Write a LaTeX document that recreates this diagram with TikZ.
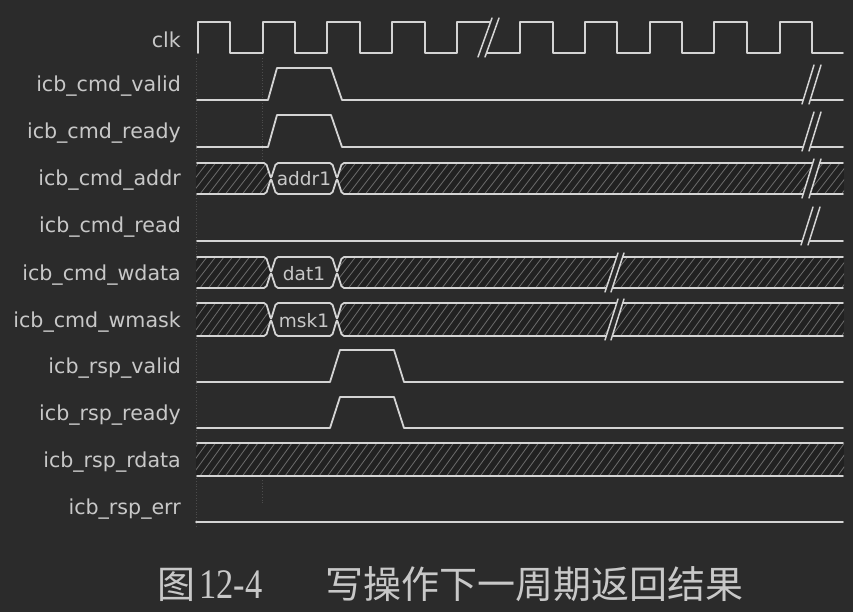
\documentclass[tikz,border=0pt]{standalone}
\usepackage{graphicx}
\usepackage{fontspec}
\setmainfont{DejaVu Sans}
\newfontfamily\cjkfont{Noto Sans CJK SC}
\newfontfamily\capserif{Liberation Serif}
\definecolor{bgc}{HTML}{2B2B2B}
\definecolor{busc}{HTML}{212121}
\definecolor{sigc}{HTML}{D4D4D4}
\definecolor{txtc}{HTML}{C8C8C8}
\definecolor{hatchc}{HTML}{6C6C6C}
\definecolor{gridc}{HTML}{4C4C4C}
\tikzset{
  sig/.style={draw=sigc, line width=1.8pt, line join=round, line cap=round},
  lbl/.style={anchor=base east, text=txtc, inner sep=0pt, font=\fontsize{20.6}{24}\selectfont},
  valtxt/.style={anchor=base, text=txtc, inner sep=0pt, font=\fontsize{18.5}{22}\selectfont},
  hatchline/.style={draw=hatchc, line width=0.8pt},
  gridline/.style={draw=gridc, line width=0.8pt, dotted},
}
% hatched region: #1 clip path, #2 x1, #3 x2, #4 ytop, #5 ybot
\newcommand\hatchreg[5]{%
  \begin{scope}
    \clip #1;
    \fill[busc] (#2,#4) rectangle (#3,#5);
    \pgfmathtruncatemacro\hnn{(#3-#2+40)/8.5}
    \foreach \i in {0,...,\hnn}{%
      \pgfmathsetmacro\hxx{#2-30+8.5*\i}
      \draw[hatchline] (\hxx,#5) -- (\hxx+24,#4);
    }
  \end{scope}}
% bus with one value: #1 top, #2 bottom
\newcommand\busrow[2]{%
  \pgfmathsetmacro\bm{(#1+#2)/2}
  \hatchreg{(196,#1) -- (266,#1) -- (271,\bm) -- (266,#2) -- (196,#2) -- cycle}{196}{272}{#1}{#2}
  \hatchreg{(337,\bm) -- (342,#1) -- (844,#1) -- (844,#2) -- (342,#2) -- cycle}{336}{844}{#1}{#2}
  \draw[sig, rounded corners=2pt] (197,#1) -- (266,#1) -- (271,\bm) -- (276,#1) -- (332,#1) -- (337,\bm) -- (342,#1) -- (843,#1);
  \draw[sig, rounded corners=2pt] (197,#2) -- (266,#2) -- (271,\bm) -- (276,#2) -- (332,#2) -- (337,\bm) -- (342,#2) -- (843,#2);
}
% break mark: #1 x bottom, #2 y bottom, #3 x top, #4 y top, #5 gap
\newcommand\brk[5]{%
  \fill[bgc] (#1,#2) -- (#3,#4) -- (#3+#5,#4) -- (#1+#5,#2) -- cycle;
  \draw[sig, line width=1.5pt] (#1,#2) -- (#3,#4);
  \draw[sig, line width=1.5pt] (#1+#5,#2) -- (#3+#5,#4);
}
\begin{document}
\begin{tikzpicture}[x=1pt,y=-1pt]
\fill[bgc] (0,0) rectangle (853,612);
\useasboundingbox (0,0) rectangle (853,612);

% faint dotted grid
\draw[gridline] (196,58) -- (196,528);
\draw[gridline] (262,58) -- (262,160);
\draw[gridline] (262,480) -- (262,505);

% labels
\node[lbl] (lclk)   at (181,48)  {clk};
\node[lbl] (lcv)    at (181,92)  {icb\_cmd\_valid};
\node[lbl] (lcr)    at (181,139) {icb\_cmd\_ready};
\node[lbl] (lca)    at (181,186) {icb\_cmd\_addr};
\node[lbl] (lcrd)   at (181,233) {icb\_cmd\_read};
\node[lbl] (lcw)    at (181,280) {icb\_cmd\_wdata};
\node[lbl] (lcm)    at (181,327) {icb\_cmd\_wmask};
\node[lbl] (lrv)    at (181,373) {icb\_rsp\_valid};
\node[lbl] (lrr)    at (181,420) {icb\_rsp\_ready};
\node[lbl] (lrd)    at (181,467) {icb\_rsp\_rdata};
\node[lbl] (lre)    at (181,514) {icb\_rsp\_err};

% clk
\draw[sig] (198,53) -- (198,22) -- (230,22) -- (230,53) -- (263,53) -- (263,22) -- (295,22) -- (295,53)
  -- (327,53) -- (327,22) -- (360,22) -- (360,53) -- (392,53) -- (392,22) -- (425,22) -- (425,53)
  -- (457,53) -- (457,22) -- (494,22);
\draw[sig] (480,53) -- (520,53) -- (520,22) -- (553,22) -- (553,53) -- (585,53) -- (585,22) -- (617,22)
  -- (617,53) -- (650,53) -- (650,22) -- (682,22) -- (682,53) -- (714,53) -- (714,22) -- (747,22)
  -- (747,53) -- (780,53) -- (780,22) -- (812,22) -- (812,53) -- (843,53);
\brk{478}{57}{492}{18}{7}

% icb_cmd_valid
\draw[sig] (197,100) -- (268,100) -- (277,68) -- (331,68) -- (342,100) -- (843,100);
\brk{802}{104}{814}{65}{7}
% icb_cmd_ready
\draw[sig] (197,147) -- (268,147) -- (277,115) -- (331,115) -- (342,147) -- (843,147);
\brk{802}{151}{814}{112}{7}

% icb_cmd_addr
\busrow{163}{194}
\node[valtxt] (vaddr) at (304,186) {addr1};
\brk{802}{198}{814}{159}{7}

% icb_cmd_read
\draw[sig] (197,241) -- (843,241);
\brk{801}{245}{813}{207}{7}

% icb_cmd_wdata
\busrow{257}{288}
\node[valtxt] (vdat) at (304,280) {dat1};
\brk{605}{292}{618}{253}{6}

% icb_cmd_wmask
\busrow{303}{336}
\node[valtxt] (vmsk) at (304,327) {msk1};
\brk{605}{340}{618}{299}{6}

% icb_rsp_valid
\draw[sig] (197,382) -- (330,382) -- (340,350) -- (394,350) -- (404,382) -- (843,382);
% icb_rsp_ready
\draw[sig] (197,428) -- (330,428) -- (340,397) -- (394,397) -- (404,428) -- (843,428);

% icb_rsp_rdata
\hatchreg{(196,443) rectangle (844,476)}{196}{844}{443}{476}
\draw[sig] (197,443) -- (843,443);
\draw[sig] (197,476) -- (843,476);

% icb_rsp_err
\draw[sig] (196,522) -- (843,522);

% caption
\node[anchor=base, text=txtc, inner sep=0pt, font=\cjkfont\fontsize{38}{40}\selectfont] (cap1) at (176,598) {图};
\node[anchor=base, text=txtc, inner sep=0pt, font=\capserif\fontsize{42}{44}\selectfont] (cap2) at (231,598) {\scalebox{0.82}[1]{12-4}};
\node[anchor=base, text=txtc, inner sep=0pt, font=\cjkfont\fontsize{38}{40}\selectfont] (cap3) at (534,598) {写操作下一周期返回结果};
\end{tikzpicture}
\end{document}
